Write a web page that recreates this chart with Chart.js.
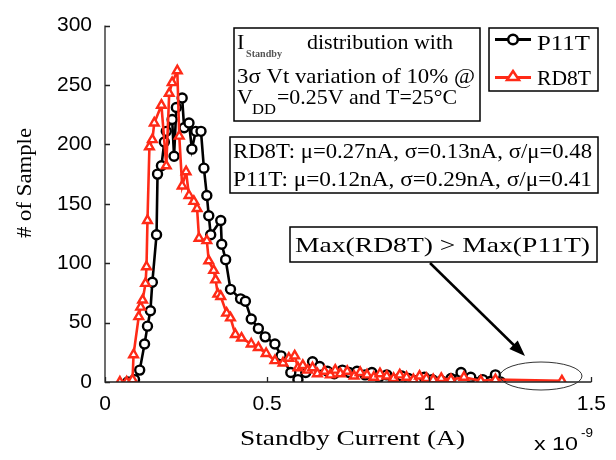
<!DOCTYPE html>
<html><head><meta charset="utf-8">
<script src="https://cdn.jsdelivr.net/npm/chart.js@4.4.1/dist/chart.umd.min.js"></script>
<style>html,body{margin:0;padding:0;background:#fff;overflow:hidden}canvas{display:block}</style>
</head><body><canvas id="c" width="616" height="460"></canvas>
<script>
// ---- data (x in units of 1e-9 A) ----
const xTickValues = [0, 0.5, 1, 1.5];
const xTickLabels = ['0', '0.5', '1', '1.5'];
const yTickValues = [0, 50, 100, 150, 200, 250, 300];

const p11tX = [0.070,0.091,0.107,0.122,0.131,0.140,0.146,0.159,0.162,0.174,0.183,0.189,0.207,0.213,0.220,0.238,0.244,0.259,0.268,0.280,0.296,0.305,0.314,0.320,0.326,0.357,0.360,0.372,0.387,0.418,0.433,0.451,0.473,0.494,0.524,0.543,0.573,0.595,0.619,0.640,0.662,0.686,0.707,0.732,0.753,0.777,0.802,0.823,0.845,0.869,0.890,0.915,0.936,0.960,0.985,1.009,1.037,1.067,1.098,1.128,1.165,1.204,1.220];
const p11tY = [0,2,10,32,47,60,84,124,175,182,202,211,221,190,231,239,214,218,196,211,211,180,157,140,124,136,116,103,78,70,68,53,45,38,32,22,8,2,8,17,13,9,7,10,8,9,6,8,4,6,2,5,3,1,4,2,1,3,8,4,2,6,0];

const rd8tX = [0.046,0.067,0.085,0.088,0.104,0.110,0.116,0.125,0.128,0.131,0.137,0.146,0.152,0.174,0.189,0.198,0.207,0.223,0.229,0.238,0.250,0.259,0.274,0.284,0.290,0.314,0.320,0.335,0.341,0.348,0.357,0.375,0.387,0.402,0.421,0.451,0.473,0.497,0.524,0.549,0.567,0.585,0.595,0.610,0.625,0.640,0.655,0.677,0.695,0.710,0.726,0.747,0.768,0.787,0.808,0.829,0.848,0.869,0.890,0.909,0.930,0.951,0.970,0.991,1.012,1.037,1.067,1.107,1.159,1.204,1.409];
const rd8tY = [0,0,2,23,55,63,69,83,97,136,198,204,218,233,182,243,252,262,207,165,177,157,152,146,121,119,102,94,86,74,72,58,54,40,37,32,29,24,18,16,20,22,12,14,10,12,7,9,6,10,7,9,5,8,6,4,7,5,3,6,4,2,5,3,2,3,2,4,1,2,1];

const RED = '#ff2a17';
const SERIF = '"Liberation Serif", "Times New Roman", serif';
const SANS = '"Liberation Sans", Arial, sans-serif';

function txt(ctx, s, x, y, size, w, family, weight) {
  ctx.save();
  ctx.font = (weight ? weight + ' ' : '') + size + 'px ' + family;
  ctx.textBaseline = 'alphabetic';
  ctx.textAlign = 'left';
  const m = ctx.measureText(s).width;
  ctx.translate(x, y);
  if (w) ctx.scale(w / m, 1);
  ctx.fillText(s, 0, 0);
  ctx.restore();
}
function box(ctx, x1, y1, x2, y2) {
  ctx.save(); ctx.strokeStyle = '#000'; ctx.lineWidth = 1.5;
  ctx.strokeRect(x1, y1, x2 - x1, y2 - y1); ctx.restore();
}

const deco = {
  id: 'deco',
  afterDraw(chart) {
    const ctx = chart.ctx;
    const xs = chart.scales.x, ys = chart.scales.y;
    const L = xs.left, R = xs.right, T = ys.top, B = ys.bottom;
    ctx.save();
    ctx.strokeStyle = '#222'; ctx.lineWidth = 1.3;
    ctx.beginPath();
    ctx.moveTo(L, T); ctx.lineTo(L, B); ctx.lineTo(R, B);
    yTickValues.forEach(v => { const p = Math.round(ys.getPixelForValue(v)) + 0.5; ctx.moveTo(L, p); ctx.lineTo(L + 5, p); });
    xTickValues.forEach(v => { const p = Math.round(xs.getPixelForValue(v)) + 0.5; ctx.moveTo(p, B); ctx.lineTo(p, B - 5); });
    ctx.stroke();
    ctx.restore();

    ctx.fillStyle = '#000';
    // axis titles
    ctx.save(); ctx.translate(25, 183); ctx.rotate(-Math.PI / 2);
    txt(ctx, '# of Sample', -55, 6, 21, 110, SERIF); ctx.restore();
    txt(ctx, 'Standby Current (A)', 240, 445, 22, 225, SERIF);
    txt(ctx, 'x 10', 534, 450, 19, 44, SANS);
    txt(ctx, '-9', 581, 437, 12, 12, SANS);

    // info box
    box(ctx, 234, 28, 480, 121);
    txt(ctx, 'I', 237, 49, 22, 0, SERIF);
    ctx.fillStyle = '#555';
    txt(ctx, 'Standby', 246, 57, 10, 36, SERIF, 'bold');
    ctx.fillStyle = '#000';
    txt(ctx, 'distribution with', 307, 49, 22, 146, SERIF);
    txt(ctx, '3\u03c3 Vt variation of 10% @', 237, 83, 22, 238, SERIF);
    txt(ctx, 'V', 237, 104, 22, 0, SERIF);
    txt(ctx, 'DD', 252, 114, 15, 24, SERIF);
    txt(ctx, '=0.25V and T=25\u00b0C', 277, 104, 22, 180, SERIF);

    // legend box
    box(ctx, 489, 28, 598, 91);
    ctx.save();
    ctx.lineWidth = 3; ctx.strokeStyle = '#000';
    ctx.beginPath(); ctx.moveTo(495, 39.5); ctx.lineTo(531, 39.5); ctx.stroke();
    ctx.fillStyle = '#fff'; ctx.lineWidth = 2.5;
    ctx.beginPath(); ctx.arc(513, 39.5, 4.8, 0, Math.PI * 2); ctx.fill(); ctx.stroke();
    ctx.strokeStyle = RED; ctx.lineWidth = 3;
    ctx.beginPath(); ctx.moveTo(495, 77.5); ctx.lineTo(531, 77.5); ctx.stroke();
    ctx.lineWidth = 2.5;
    ctx.beginPath(); ctx.moveTo(513, 71); ctx.lineTo(519, 80); ctx.lineTo(507, 80); ctx.closePath(); ctx.fill(); ctx.stroke();
    ctx.restore();
    ctx.fillStyle = '#000';
    txt(ctx, 'P11T', 537, 50, 22, 53, SERIF);
    txt(ctx, 'RD8T', 537, 85, 22, 54, SERIF);

    // stats box
    box(ctx, 230, 137, 598, 193);
    txt(ctx, 'RD8T: \u03bc=0.27nA, \u03c3=0.13nA, \u03c3/\u03bc=0.48', 233, 158, 22, 359, SERIF);
    txt(ctx, 'P11T: \u03bc=0.12nA, \u03c3=0.29nA, \u03c3/\u03bc=0.41', 233, 186, 22, 359, SERIF);

    // max box
    box(ctx, 290, 227, 597, 262);
    txt(ctx, 'Max(RD8T) > Max(P11T)', 295, 252, 22, 295, SERIF);

    // arrow
    ctx.save();
    ctx.strokeStyle = '#000'; ctx.fillStyle = '#000'; ctx.lineWidth = 2.5;
    const ax1 = 430, ay1 = 263, ax2 = 525, ay2 = 356;
    const ang = Math.atan2(ay2 - ay1, ax2 - ax1);
    ctx.beginPath(); ctx.moveTo(ax1, ay1);
    ctx.lineTo(ax2 - 10 * Math.cos(ang), ay2 - 10 * Math.sin(ang)); ctx.stroke();
    ctx.beginPath(); ctx.moveTo(ax2, ay2);
    ctx.lineTo(ax2 - 16 * Math.cos(ang) + 6 * Math.sin(ang), ay2 - 16 * Math.sin(ang) - 6 * Math.cos(ang));
    ctx.lineTo(ax2 - 16 * Math.cos(ang) - 6 * Math.sin(ang), ay2 - 16 * Math.sin(ang) + 6 * Math.cos(ang));
    ctx.closePath(); ctx.fill();
    // ellipse
    ctx.lineWidth = 1; ctx.strokeStyle = '#333';
    ctx.beginPath(); ctx.ellipse(541, 376, 41, 14, 0, 0, Math.PI * 2); ctx.stroke();
    ctx.restore();
  }
};

new Chart(document.getElementById('c'), {
  type: 'scatter',
  data: {
    datasets: [
      { label: 'P11T', data: p11tX.map((x, i) => ({ x: x, y: p11tY[i] })), showLine: true,
        borderColor: '#000', borderWidth: 2.6, pointStyle: 'circle', pointRadius: 4.5,
        pointBorderWidth: 2.4, pointBackgroundColor: '#fff', pointBorderColor: '#000', order: 2 },
      { label: 'RD8T', data: rd8tX.map((x, i) => ({ x: x, y: rd8tY[i] })), showLine: true,
        borderColor: RED, borderWidth: 2.6, pointStyle: 'triangle', pointRadius: 5,
        pointBorderWidth: 2.4, pointBackgroundColor: '#fff', pointBorderColor: RED, order: 1 }
    ]
  },
  options: {
    responsive: false, animation: false, devicePixelRatio: 1,
    layout: { padding: { left: 0, right: 19, top: 18, bottom: 0 } },
    plugins: { legend: { display: false }, tooltip: { enabled: false } },
    scales: {
      x: {
        type: 'linear', min: 0, max: 1.5,
        afterBuildTicks(s) { s.ticks = xTickValues.map(v => ({ value: v })); },
        ticks: { callback: (v, i) => xTickLabels[i], color: '#000', font: { family: SANS, size: 21 }, padding: 10, maxRotation: 0, autoSkip: false },
        grid: { display: false, drawTicks: false }, border: { display: false },
        afterFit(s) { s.height = 78; }
      },
      y: {
        min: 0, max: 300,
        afterBuildTicks(s) { s.ticks = yTickValues.map(v => ({ value: v })); },
        ticks: { color: '#000', font: { family: SANS, size: 21 }, padding: 13 },
        grid: { display: false, drawTicks: false }, border: { display: false },
        afterFit(s) { s.width = 105; }
      }
    }
  },
  plugins: [deco]
});
</script></body></html>
